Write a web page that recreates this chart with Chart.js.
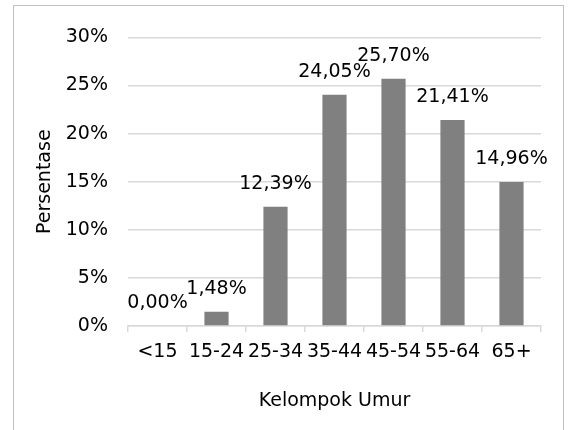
<!DOCTYPE html>
<html>
<head>
<meta charset="utf-8">
<script src="https://cdn.jsdelivr.net/npm/chart.js@4"></script>
<style>
  html, body { margin: 0; padding: 0; background: #fff; }
  #frame { position: absolute; left: 13px; top: 5px; width: 549px; height: 430px; border: 1px solid #bfbfbf; }
  #chart { display: block; }
</style>
</head>
<body>
<div id="frame"><canvas id="chart" width="549" height="424"></canvas></div>
<script>
var categories = ['<15', '15-24', '25-34', '35-44', '45-54', '55-64', '65+'];
var percentages = [0.00, 1.48, 12.39, 24.05, 25.70, 21.41, 14.96];
var yTicks = [0, 5, 10, 15, 20, 25, 30];

var FONT = '"DejaVu Sans", sans-serif';
var SIZE = 19;

// draws the value over each bar, comma decimal like the source
var barLabels = {
    id: 'barLabels',
    afterDatasetsDraw: function (chart) {
        var ctx = chart.ctx;
        var meta = chart.getDatasetMeta(0);
        ctx.save();
        ctx.font = SIZE + 'px ' + FONT;
        ctx.fillStyle = '#000';
        ctx.textAlign = 'center';
        ctx.textBaseline = 'middle';
        meta.data.forEach(function (bar, i) {
            var txt = percentages[i].toFixed(2).replace('.', ',') + '%';
            ctx.fillText(txt, bar.x, bar.y - 23);
        });
        ctx.restore();
    }
};

new Chart(document.getElementById('chart'), {
    type: 'bar',
    data: {
        labels: categories,
        datasets: [{ data: percentages, backgroundColor: '#808080', borderWidth: 0, barPercentage: 0.5, categoryPercentage: 0.82 }]
    },
    options: {
        responsive: false,
        animation: false,
        layout: { padding: { top: 29, right: 22, left: 0, bottom: 0 } },
        plugins: { legend: { display: false }, tooltip: { enabled: false } },
        scales: {
            x: {
                afterFit: function (s) { s.height = 104; },
                grid: { offset: true, drawOnChartArea: false, drawTicks: true, tickLength: 6, color: '#d9d9d9', lineWidth: 1.5 },
                border: { color: '#d9d9d9', width: 1.5 },
                ticks: { color: '#000', padding: 9, maxRotation: 0, minRotation: 0, autoSkip: false, font: { family: FONT, size: SIZE } },
                title: { display: true, text: 'Kelompok Umur', color: '#000', font: { family: FONT, size: SIZE }, padding: { top: 0, bottom: 18 } }
            },
            y: {
                min: 0,
                max: 30,
                afterFit: function (s) { s.width = 114; },
                afterBuildTicks: function (s) { s.ticks = yTicks.map(function (v) { return { value: v }; }); },
                grid: { color: '#d9d9d9', lineWidth: 1.5, drawTicks: false },
                border: { display: false },
                ticks: { color: '#000', padding: 20, font: { family: FONT, size: SIZE }, callback: function (v) { return v + '%'; } },
                title: { display: true, text: 'Persentase', color: '#000', font: { family: FONT, size: SIZE }, padding: { top: 20, bottom: 0 } }
            }
        }
    },
    plugins: [barLabels]
});
</script>
</body>
</html>
